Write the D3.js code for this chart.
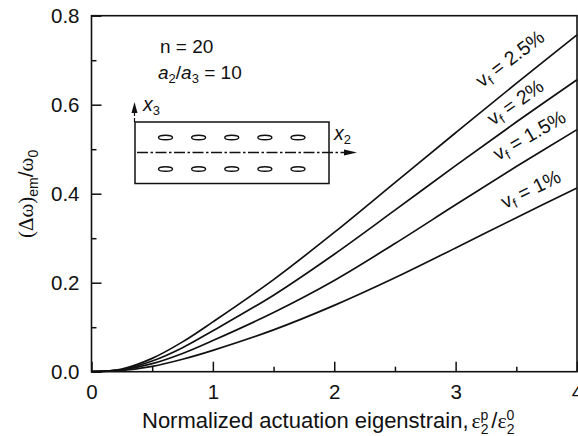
<!DOCTYPE html>
<html>
<head>
<meta charset="utf-8">
<script src="https://cdnjs.cloudflare.com/ajax/libs/d3/7.8.5/d3.min.js"></script>
<style>
  html, body { margin:0; padding:0; background:#fff; overflow:hidden; }
  text { font-family:"Liberation Sans", Arial, sans-serif; fill:#111; }
  .greek { font-family:"Liberation Serif", serif; }
</style>
</head>
<body>
<svg id="chart" width="578" height="436"></svg>
<script>
// values
const strain = [0, 0.25, 0.5, 0.75, 1, 1.5, 2, 2.5, 3, 3.5, 4];
const vf25 = [0, 0.006, 0.030, 0.067, 0.112, 0.207, 0.313, 0.425, 0.537, 0.648, 0.757];
const vf20 = [0, 0.005, 0.024, 0.054, 0.092, 0.172, 0.264, 0.363, 0.463, 0.561, 0.656];
const vf15 = [0, 0.004, 0.018, 0.041, 0.070, 0.133, 0.205, 0.288, 0.375, 0.461, 0.544];
const vf10 = [0, 0.003, 0.012, 0.028, 0.048, 0.094, 0.149, 0.211, 0.278, 0.346, 0.413];
const xMajor = [0, 1, 2, 3, 4];
const xMinor = [0.5, 1.5, 2.5, 3.5];
const yMajor = [0, 0.2, 0.4, 0.6, 0.8];
const yMinor = [0.1, 0.3, 0.5, 0.7];
const curveLabels = ["2.5%", "2%", "1.5%", "1%"];
const inclusionCols = [0, 1, 2, 3, 4];

const svg = d3.select('#chart');
const margin = { top:15.7, left:91.5, right:1, bottom:64.3 };
const innerWidth = 578 - margin.left - margin.right;
const innerHeight = 436 - margin.top - margin.bottom;

const xScale = d3.scaleLinear().domain([0, 4]).range([0, innerWidth]);
const yScale = d3.scaleLinear().domain([0, 0.8]).range([innerHeight, 0]);

const g = svg.append('g').attr('transform', `translate(${margin.left},${margin.top})`);

// curves
const line = d3.line()
    .x((d, i) => xScale(strain[i]))
    .y(d => yScale(d))
    .curve(d3.curveCatmullRom.alpha(0.5));
[vf25, vf20, vf15, vf10].forEach(s => {
  g.append('path').attr('d', line(s))
    .attr('fill', 'none').attr('stroke', '#111').attr('stroke-width', 1.7);
});

// frame
g.append('rect').attr('width', innerWidth).attr('height', innerHeight)
  .attr('fill', 'none').attr('stroke', '#111').attr('stroke-width', 1.6);

// axes, ticks point inward
function styleAxis(sel) {
  sel.select('.domain').remove();
  sel.selectAll('line').attr('stroke', '#111').attr('stroke-width', 1.5);
  sel.selectAll('text').style('font-size', '20.5px').attr('fill', '#111');
}
function dropLabels(sel) {
  sel.selectAll('text').remove();
}
g.append('g').attr('transform', `translate(0,${innerHeight})`)
  .call(d3.axisBottom(xScale).tickValues(xMajor).tickFormat(d3.format('d')).tickSizeInner(-10).tickPadding(13))
  .call(styleAxis);
g.append('g').attr('transform', `translate(0,${innerHeight})`)
  .call(d3.axisBottom(xScale).tickValues(xMinor).tickSizeInner(-5))
  .call(styleAxis).call(dropLabels);
g.append('g')
  .call(d3.axisLeft(yScale).tickValues(yMajor).tickFormat(d3.format('.1f')).tickSizeInner(-10).tickPadding(12))
  .call(styleAxis);
g.append('g')
  .call(d3.axisLeft(yScale).tickValues(yMinor).tickSizeInner(-5))
  .call(styleAxis).call(dropLabels);

// x title
const xTitle = svg.append('text').attr('x', 142).attr('y', 428).style('font-size', '22px');
xTitle.append('tspan').text('Normalized actuation eigenstrain,');
xTitle.append('tspan').attr('class', 'greek').attr('dx', 3).text('\u03b5');
xTitle.append('tspan').attr('dy', 6).style('font-size', '14px').text('2');
xTitle.append('tspan').attr('dy', -14).attr('dx', -8).style('font-size', '14px').text('p');
xTitle.append('tspan').attr('dy', 8).attr('dx', 3).text('/');
xTitle.append('tspan').attr('class', 'greek').text('\u03b5');
xTitle.append('tspan').attr('dy', 6).style('font-size', '14px').text('2');
xTitle.append('tspan').attr('dy', -14).attr('dx', -8).style('font-size', '14px').text('0');

// y title
const yTitle = svg.append('text').attr('transform', 'translate(33,238) rotate(-90)').style('font-size', '21px');
yTitle.append('tspan').attr('class', 'greek').text('(\u0394\u03c9)');
yTitle.append('tspan').attr('dy', 5).style('font-size', '14px').text('em');
yTitle.append('tspan').attr('dy', -5).text('/');
yTitle.append('tspan').attr('class', 'greek').text('\u03c9');
yTitle.append('tspan').attr('dy', 5).style('font-size', '14px').text('0');

// curve labels
const labelPos = [
  { x:482, y:88, r:-37 },
  { x:493, y:126, r:-35 },
  { x:498, y:161, r:-30 },
  { x:505, y:209, r:-26 }
];
curveLabels.forEach((t, i) => {
  const lab = svg.append('text')
    .attr('transform', `translate(${labelPos[i].x},${labelPos[i].y}) rotate(${labelPos[i].r})`)
    .style('font-size', '19.5px');
  lab.append('tspan').text('v');
  lab.append('tspan').attr('dy', 4).style('font-size', '13px').text('f');
  lab.append('tspan').attr('dy', -4).text(' = ' + t);
});

// parameters
svg.append('text').attr('x', 160).attr('y', 53).style('font-size', '19px').text('n = 20');
const ratio = svg.append('text').attr('x', 158).attr('y', 79).style('font-size', '19px');
ratio.append('tspan').style('font-style', 'italic').text('a');
ratio.append('tspan').attr('dy', 4).style('font-size', '13px').text('2');
ratio.append('tspan').attr('dy', -4).text('/');
ratio.append('tspan').style('font-style', 'italic').text('a');
ratio.append('tspan').attr('dy', 4).style('font-size', '13px').text('3');
ratio.append('tspan').attr('dy', -4).text(' = 10');

// inset sketch of the beam
svg.append('rect').attr('x', 135).attr('y', 122).attr('width', 194).attr('height', 61.5)
  .attr('fill', 'none').attr('stroke', '#111').attr('stroke-width', 1.5);
svg.append('line').attr('x1', 137).attr('x2', 346).attr('y1', 152.5).attr('y2', 152.5)
  .attr('stroke', '#111').attr('stroke-width', 1.3).attr('stroke-dasharray', '11 2.5 2.5 2.5');
svg.append('path').attr('d', 'M344,149.5 L357,152.5 L344,155.5 Z').attr('fill', '#111');
svg.append('line').attr('x1', 134.5).attr('x2', 134.5).attr('y1', 122).attr('y2', 108)
  .attr('stroke', '#111').attr('stroke-width', 1.2).attr('stroke-dasharray', '4 2');
svg.append('path').attr('d', 'M131.5,113 L134.5,102 L137.5,113 Z').attr('fill', '#111');

const inclX = d3.scaleLinear().domain([0, 4]).range([165.5, 298]);
[137.5, 169].forEach(cy => {
  svg.selectAll(null).data(inclusionCols).enter().append('ellipse')
    .attr('cx', d => inclX(d)).attr('cy', cy)
    .attr('rx', 7).attr('ry', 2.3)
    .attr('fill', 'none').attr('stroke', '#111').attr('stroke-width', 1.4);
});

[['3', 143, 111], ['2', 334, 140]].forEach(a => {
  const t = svg.append('text').attr('x', a[1]).attr('y', a[2]).style('font-size', '19.5px');
  t.append('tspan').style('font-style', 'italic').text('x');
  t.append('tspan').attr('dy', 4).style('font-size', '13px').text(a[0]);
});
</script>
</body>
</html>
